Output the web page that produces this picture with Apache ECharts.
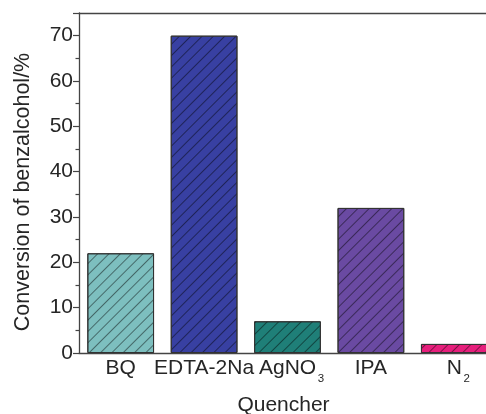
<!DOCTYPE html>
<html>
<head>
<meta charset="utf-8">
<script src="https://cdn.jsdelivr.net/npm/echarts@6/dist/echarts.min.js"></script>
<style>
html,body{margin:0;padding:0;background:#fff;}
#chart{width:486px;height:414px;}
</style>
</head>
<body>
<div id="chart"></div>
<script>
var categories = ['BQ', 'EDTA-2Na', 'AgNO3', 'IPA', 'N2'];
var conversion = [22, 70, 7, 32, 2];
var barColors = ['#7dbfbf', '#3840a2', '#1f7f78', '#6a4aa2', '#e61f7c'];
var yTicks = [0, 10, 20, 30, 40, 50, 60, 70];

var FONT = 'Liberation Sans, Arial, Helvetica, sans-serif';
var TXT = '#262626';
var AX = '#444444';

function labelFmt(v) {
  var m = /^(.*?)(\d)$/.exec(v);
  if (m && (v === 'AgNO3' || v === 'N2')) {
    return '{b|' + m[1] + '}{s|' + m[2] + '}';
  }
  return '{a|' + v + '}';
}

var chart = echarts.init(document.getElementById('chart'), null, {renderer: 'canvas'});
chart.setOption({
  animation: false,
  backgroundColor: '#ffffff',
  grid: {left: 79, top: 13, bottom: 61, width: 417, containLabel: false, outerBoundsMode: 'none'},
  xAxis: [{
    type: 'category',
    data: categories,
    position: 'bottom',
    boundaryGap: true,
    axisLine: {show: true, lineStyle: {color: AX, width: 1.3}},
    axisTick: {show: false},
    axisLabel: {
      interval: 0,
      hideOverlap: false,
      margin: -2.5,
      formatter: labelFmt,
      rich: {
        a: {fontSize: 21, fontFamily: FONT, color: TXT, lineHeight: 36},
        b: {fontSize: 21, fontFamily: FONT, color: TXT, lineHeight: 36, padding: [0, 0, 0, 8]},
        s: {fontSize: 11.5, fontFamily: FONT, color: TXT, lineHeight: 14, verticalAlign: 'bottom', padding: [0, 0, 2, 1.5]}
      }
    },
    name: 'Quencher',
    nameLocation: 'middle',
    nameGap: 42,
    nameTextStyle: {fontSize: 21, fontFamily: FONT, color: TXT, padding: [0, 8, 0, 0]}
  }, {
    type: 'category',
    data: categories,
    position: 'top',
    axisLine: {show: true, lineStyle: {color: AX, width: 1.3}},
    axisTick: {show: false},
    axisLabel: {show: false}
  }],
  yAxis: {
    type: 'value',
    min: 0,
    max: 75,
    interval: 10,
    axisLine: {show: true, lineStyle: {color: AX, width: 1.3}},
    axisTick: {show: true, inside: false, length: 6, lineStyle: {color: AX, width: 1.2}},
    minorTick: {show: true, splitNumber: 2, length: 3.5, lineStyle: {color: AX, width: 1.2}},
    splitLine: {show: false},
    axisLabel: {
      fontSize: 21, fontFamily: FONT, color: TXT, margin: 6,
      showMaxLabel: false,
      formatter: function (v) { return yTicks.indexOf(v) >= 0 ? String(v) : ''; }
    },
    name: 'Conversion of benzalcohol/%',
    nameLocation: 'middle',
    nameGap: 45,
    nameTextStyle: {fontSize: 21.5, fontFamily: FONT, color: TXT, padding: [0, 18, 0, 0]}
  },
  series: [{
    type: 'bar',
    barWidth: '80%',
    data: conversion.map(function (v, i) {
      return {
        value: v,
        itemStyle: {
          color: barColors[i],
          borderColor: '#333333',
          borderWidth: 1,
          decal: {
            symbol: 'rect',
            symbolSize: 1,
            color: 'rgba(0,0,0,0.45)',
            dashArrayX: [1, 0],
            dashArrayY: [1, 7],
            rotation: -Math.PI / 4
          }
        }
      };
    })
  }]
});
</script>
</body>
</html>
